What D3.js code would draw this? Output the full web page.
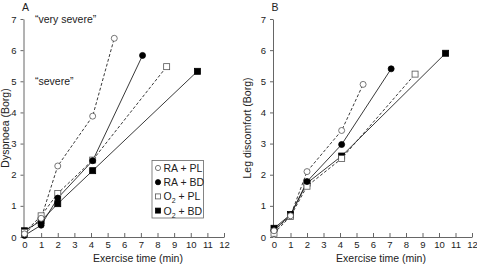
<!DOCTYPE html>
<html><head><meta charset="utf-8">
<script src="https://cdn.jsdelivr.net/npm/d3@7"></script>
<style>body{margin:0;background:#fff}svg{display:block}text{font-family:"Liberation Sans",Arial,sans-serif;fill:#222}</style>
</head><body><svg id="c" width="477" height="264"></svg>
<script>
const series = ["RA + PL","RA + BD","O2 + PL","O2 + BD"];
const times = {
  "RA + PL":[0,1,2,4.1,5.4],
  "RA + BD":[0,1,2,4.1,7.1],
  "O2 + PL":[0,1,2,4.1,8.55],
  "O2 + BD":[0,1,2,4.1,10.4]
};
const dyspnoea = {
  "RA + PL":[0.1,0.6,2.28,3.88,6.38],
  "RA + BD":[0.05,0.38,1.25,2.45,5.83],
  "O2 + PL":[0.15,0.68,1.4,2.47,5.47],
  "O2 + BD":[0.2,0.52,1.07,2.13,5.32]
};
const legDiscomfort = {
  "RA + PL":[0.2,0.68,2.1,3.42,4.9],
  "RA + BD":[0.22,0.7,1.78,2.97,5.4],
  "O2 + PL":[0.12,0.66,1.63,2.52,5.23],
  "O2 + BD":[0.28,0.72,1.73,2.6,5.9]
};
const xTicks = d3.range(0,13);
const yTicks = d3.range(0,8);
const style = {
  "RA + PL":{shape:"circle",fill:"#fff",dash:"3,2"},
  "RA + BD":{shape:"circle",fill:"#000",dash:null},
  "O2 + PL":{shape:"square",fill:"#fff",dash:"3,2"},
  "O2 + BD":{shape:"square",fill:"#000",dash:null}
};
const svg = d3.select("#c");

function panel(x0,x1,data,letter,ytitle,ytitleX,xtitleX){
  const x = d3.scaleLinear().domain([0,12]).range([x0,x1]);
  const y = d3.scaleLinear().domain([0,7]).range([237,19]);
  const g = svg.append("g");
  const xa = g.append("g").attr("transform","translate(0,237)")
    .call(d3.axisBottom(x).tickValues(xTicks).tickFormat(d3.format("d")).tickSizeInner(-4).tickSizeOuter(0).tickPadding(4));
  const ya = g.append("g").attr("transform",`translate(${x0-1},0)`)
    .call(d3.axisLeft(y).tickValues(yTicks).tickFormat(d3.format("d")).tickSizeInner(3).tickSizeOuter(0).tickPadding(4));
  [xa,ya].forEach(a=>{a.selectAll("path,line").attr("stroke","#666");a.selectAll("text").attr("font-size",9.5).attr("fill","#222");});
  g.append("text").attr("x",xtitleX).attr("y",262).attr("text-anchor","middle").attr("font-size",10.5).text("Exercise time (min)");
  g.append("text").attr("transform",`translate(${ytitleX},128) rotate(-90)`).attr("text-anchor","middle").attr("font-size",10.5).text(ytitle);
  g.append("text").attr("x",x0+1).attr("y",11).attr("text-anchor","middle").attr("font-size",10.5).text(letter);
  const line = d3.line().x(d=>x(d[0])).y(d=>y(d[1]));
  series.forEach(s=>{
    const pts = times[s].map((t,i)=>[t,data[s][i]]);
    g.append("path").datum(pts).attr("d",line).attr("fill","none").attr("stroke","#222").attr("stroke-width",0.9)
      .attr("stroke-dasharray",style[s].dash);
  });
  series.slice().reverse().forEach(s=>{
    const pts = times[s].map((t,i)=>[t,data[s][i]]);
    const st = style[s];
    if(st.shape==="circle"){
      g.selectAll(null).data(pts).enter().append("circle").attr("cx",d=>x(d[0])).attr("cy",d=>y(d[1])).attr("r",3)
        .attr("fill",st.fill).attr("stroke",st.fill==="#fff"?"#555":"#000").attr("stroke-width",0.8);
    } else {
      g.selectAll(null).data(pts).enter().append("rect").attr("x",d=>x(d[0])-3).attr("y",d=>y(d[1])-3).attr("width",6).attr("height",6)
        .attr("fill",st.fill).attr("stroke",st.fill==="#fff"?"#555":"#000").attr("stroke-width",0.8);
    }
  });
  return {x,y,g};
}

const A = panel(24.5,224,dyspnoea,"A","Dyspnoea (Borg)",9,138);
const B = panel(274,472,legDiscomfort,"B","Leg discomfort (Borg)",251,381);

A.g.append("text").attr("x",35).attr("y",A.y(7)+4).attr("font-size",10.5).text("\u201cvery severe\u201d");
A.g.append("text").attr("x",35).attr("y",A.y(5)+4).attr("font-size",10.5).text("\u201csevere\u201d");

// legend
const lg = svg.append("g");
lg.append("rect").attr("x",152).attr("y",160.5).attr("width",51.5).attr("height",57.5).attr("fill","#fff").attr("stroke","#666").attr("stroke-width",0.8);
series.forEach((s,i)=>{
  const cy = 168 + i*14.2;
  const st = style[s];
  if(st.shape==="circle"){
    lg.append("circle").attr("cx",158).attr("cy",cy).attr("r",2.6).attr("fill",st.fill).attr("stroke",st.fill==="#fff"?"#555":"#000").attr("stroke-width",0.8);
  } else {
    lg.append("rect").attr("x",155.5).attr("y",cy-2.5).attr("width",5).attr("height",5).attr("fill",st.fill).attr("stroke",st.fill==="#fff"?"#555":"#000").attr("stroke-width",0.8);
  }
  const t = lg.append("text").attr("x",163.5).attr("y",cy+4).attr("font-size",10.5);
  if(s.startsWith("O2")){
    t.append("tspan").text("O");
    t.append("tspan").attr("font-size",7).attr("dy",3).text("2");
    t.append("tspan").attr("dy",-3).text(s.slice(2));
  } else t.text(s);
});
</script></body></html>
